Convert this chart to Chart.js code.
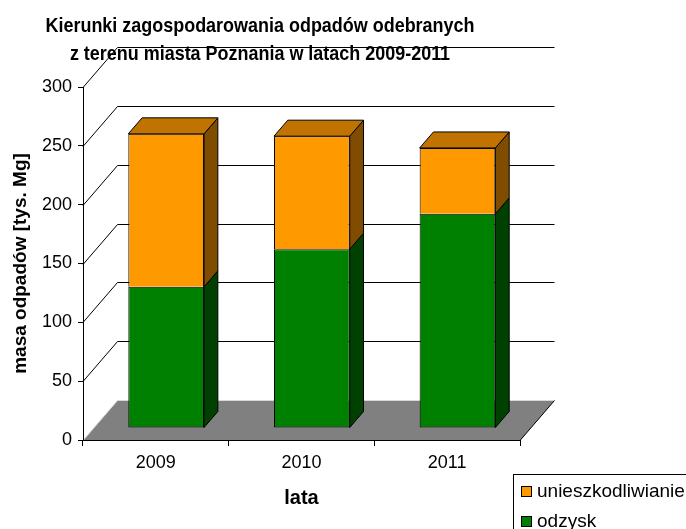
<!DOCTYPE html>
<html>
<head>
<meta charset="utf-8">
<script src="https://cdn.jsdelivr.net/npm/chart.js@4/dist/chart.umd.min.js"></script>
<style>
  html, body { margin: 0; padding: 0; background: #fff; }
  #c { display: block; }
</style>
</head>
<body>
<canvas id="c" width="686" height="529" style="width:686px;height:529px"></canvas>
<script>
// ---- data ----
const years = ['2009', '2010', '2011'];
const odzysk = [120, 152, 182];
const unieszkodliwianie = [130, 96, 56];
const seriesNames = ['odzysk', 'unieszkodliwianie'];
const yTickValues = [0, 50, 100, 150, 200, 250, 300];
const titleLines = ['Kierunki zagospodarowania odpadów odebranych', 'z terenu miasta Poznania w latach 2009-2011'];
const yTitle = 'masa odpadów [tys. Mg]';
const xTitle = 'lata';

// ---- styles ----
const FONT = '"Liberation Sans", Arial, sans-serif';
const COL = {
  green: '#008000', greenSide: '#004000', greenTop: '#006000',
  orange: '#FF9900', orangeSide: '#804D00', orangeTop: '#C07300',
  floor: '#808080'
};
const DEPTH_X = 34.5, DEPTH_Y = -40;     // full depth of the 3D box
const BAR_FRONT = 0.3, BAR_BACK = 0.7;   // bar depth position

const threeD = {
  id: 'threeD',
  beforeDraw(chart) {
    const ctx = chart.ctx;
    const xs = chart.scales.x, ys = chart.scales.y;
    const L = xs.left, R = xs.right;
    ctx.save();
    ctx.lineWidth = 1;
    ctx.strokeStyle = '#000';
    yTickValues.forEach(v => {
      if (v === 0) return;
      const yf = Math.round(ys.getPixelForValue(v)) + 0.5;
      ctx.beginPath();
      ctx.moveTo(L, yf);
      ctx.lineTo(L + DEPTH_X, yf + DEPTH_Y);
      ctx.lineTo(R + DEPTH_X, yf + DEPTH_Y);
      ctx.stroke();
    });
    const y0 = ys.getPixelForValue(0) + 0.5;
    ctx.beginPath();
    ctx.moveTo(L, y0);
    ctx.lineTo(L + DEPTH_X, y0 + DEPTH_Y);
    ctx.lineTo(R + DEPTH_X, y0 + DEPTH_Y);
    ctx.lineTo(R, y0);
    ctx.closePath();
    ctx.fillStyle = COL.floor;
    ctx.fill();
    ctx.strokeStyle = '#d8d8d8';
    ctx.beginPath();
    ctx.moveTo(L, y0);
    ctx.lineTo(L + DEPTH_X, y0 + DEPTH_Y);
    ctx.lineTo(R + DEPTH_X, y0 + DEPTH_Y);
    ctx.stroke();
    ctx.strokeStyle = '#000';
    ctx.beginPath();
    ctx.moveTo(R + DEPTH_X, y0 + DEPTH_Y);
    ctx.lineTo(R, y0);
    ctx.stroke();
    ctx.restore();
  },
  beforeDatasetsDraw(chart) {
    chart.ctx.save();
    chart.ctx.translate(DEPTH_X * BAR_FRONT, DEPTH_Y * BAR_FRONT);
  },
  afterDatasetsDraw(chart) {
    const ctx = chart.ctx;
    const ddx = DEPTH_X * (BAR_BACK - BAR_FRONT), ddy = DEPTH_Y * (BAR_BACK - BAR_FRONT);
    const sides = [COL.greenSide, COL.orangeSide];
    const tops = [COL.greenTop, COL.orangeTop];
    const nds = chart.data.datasets.length;
    ctx.lineWidth = 1;
    ctx.strokeStyle = '#000';
    ctx.lineJoin = 'miter';
    chart.data.datasets.forEach((ds, di) => {
      const meta = chart.getDatasetMeta(di);
      meta.data.forEach((el) => {
        const left = el.x - el.width / 2, right = el.x + el.width / 2;
        const top = Math.min(el.y, el.base), bottom = Math.max(el.y, el.base);
        ctx.beginPath();
        ctx.moveTo(right, top);
        ctx.lineTo(right + ddx, top + ddy);
        ctx.lineTo(right + ddx, bottom + ddy);
        ctx.lineTo(right, bottom);
        ctx.closePath();
        ctx.fillStyle = sides[di];
        ctx.fill();
        ctx.stroke();
        if (di === nds - 1) {
          ctx.beginPath();
          ctx.moveTo(left, top);
          ctx.lineTo(left + ddx, top + ddy);
          ctx.lineTo(right + ddx, top + ddy);
          ctx.lineTo(right, top);
          ctx.closePath();
          ctx.fillStyle = tops[di];
          ctx.fill();
          ctx.stroke();
        }
      });
    });
    ctx.restore();
  },
  afterDraw(chart) {
    const ctx = chart.ctx;
    ctx.save();
    ctx.fillStyle = '#000';
    ctx.font = 'bold 21px ' + FONT;
    ctx.textAlign = 'center';
    ctx.textBaseline = 'alphabetic';
    ctx.translate(260, 0);
    ctx.scale(0.855, 1);
    ctx.fillText(titleLines[0], 0, 32);
    ctx.fillText(titleLines[1], 0, 59.5);
    ctx.restore();

    ctx.save();
    ctx.lineWidth = 1;
    ctx.strokeStyle = '#000';
    ctx.strokeRect(513.5, 474.5, 220, 100);
    const items = [
      { label: seriesNames[1], color: COL.orange },
      { label: seriesNames[0], color: COL.green }
    ];
    ctx.font = '19px ' + FONT;
    ctx.textAlign = 'left';
    ctx.textBaseline = 'alphabetic';
    items.forEach((it, i) => {
      const y = 486.5 + i * 30;
      ctx.fillStyle = it.color;
      ctx.fillRect(521.5, y, 10, 10);
      ctx.strokeRect(521.5, y, 10, 10);
      ctx.fillStyle = '#000';
      ctx.fillText(it.label, 537, 497 + i * 30);
    });
    ctx.restore();
  }
};

new Chart(document.getElementById('c'), {
  type: 'bar',
  data: {
    labels: years,
    datasets: [
      { label: seriesNames[0], data: odzysk, backgroundColor: COL.green, borderColor: '#000', borderWidth: 1, borderSkipped: false, clip: false },
      { label: seriesNames[1], data: unieszkodliwianie, backgroundColor: COL.orange, borderColor: '#000', borderWidth: 1, borderSkipped: 'bottom', clip: false }
    ]
  },
  options: {
    responsive: false,
    animation: false,
    devicePixelRatio: 1,
    layout: { padding: { left: 0, right: 166, top: 87, bottom: 0 } },
    datasets: { bar: { categoryPercentage: 0.52, barPercentage: 1.0, inflateAmount: 0 } },
    plugins: {
      legend: { display: false },
      title: { display: false },
      tooltip: { enabled: false }
    },
    scales: {
      x: {
        stacked: true,
        offset: true,
        grid: { display: true, offset: true, drawOnChartArea: false, drawTicks: true, tickLength: 6, color: '#000' },
        border: { display: true, color: '#000', width: 1 },
        ticks: { color: '#000', font: { family: FONT, size: 18 }, padding: 6, maxRotation: 0 },
        title: { display: true, text: xTitle, color: '#000', font: { family: FONT, size: 20, weight: 'bold', lineHeight: 1.2 }, padding: { top: 0, bottom: 19 } },
        afterFit(scale) { scale.height = 89; }
      },
      y: {
        stacked: true,
        min: 0, max: 300,
        afterBuildTicks(scale) { scale.ticks = yTickValues.map(v => ({ value: v })); },
        grid: { display: true, drawOnChartArea: false, drawTicks: true, tickLength: 5, color: '#000' },
        border: { display: true, color: '#000', width: 1 },
        ticks: { color: '#000', font: { family: FONT, size: 18 }, padding: 6 },
        title: { display: true, text: yTitle, color: '#000', font: { family: FONT, size: 19, weight: 'bold', lineHeight: 1.2 }, padding: { top: 9, bottom: 0 } },
        afterFit(scale) { scale.width = 83; }
      }
    }
  },
  plugins: [threeD]
});
</script>
</body>
</html>
